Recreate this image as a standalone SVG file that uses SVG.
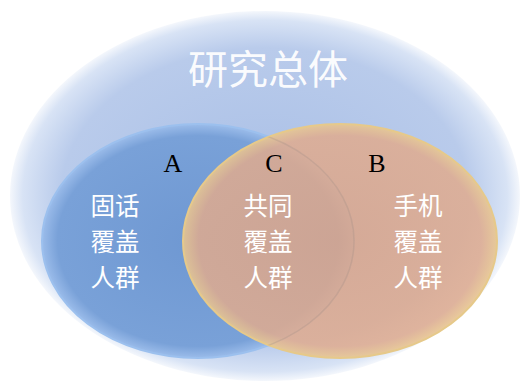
<svg xmlns="http://www.w3.org/2000/svg" width="527" height="382" viewBox="0 0 527 382">
<style>
.zh{font-family:"Noto Sans CJK SC","Noto Sans",sans-serif;fill:#ffffff;text-anchor:middle;font-size:24.5px}
.lt{font-family:"Liberation Serif",serif;fill:#000000;text-anchor:middle;font-size:26px}
</style>
<defs>
<radialGradient id="gOuter" cx="0.5" cy="0.5" r="0.5">
<stop offset="0" stop-color="#a9bfe6"/>
<stop offset="0.8" stop-color="#b9cbeb"/>
<stop offset="0.95" stop-color="#d8e3f5"/>
<stop offset="1" stop-color="#f4f7fc"/>
</radialGradient>
<radialGradient id="gBlue" cx="0.5" cy="0.5" r="0.5">
<stop offset="0" stop-color="#6f98d2"/>
<stop offset="0.9" stop-color="#79a1d8"/>
<stop offset="1" stop-color="#9bbcea"/>
</radialGradient>
<radialGradient id="gOrange" cx="0.5" cy="0.5" r="0.5">
<stop offset="0" stop-color="#dba589" stop-opacity="0.85"/>
<stop offset="0.9" stop-color="#e0ab8e" stop-opacity="0.85"/>
<stop offset="1" stop-color="#e8c690" stop-opacity="0.9"/>
</radialGradient>
<clipPath id="clipB">
<ellipse cx="340" cy="241" rx="157" ry="117"/>
</clipPath>
</defs>
<rect width="527" height="382" fill="#ffffff"/>
<g id="outer">
<ellipse cx="265" cy="196" rx="255" ry="185" fill="url(#gOuter)"/>
<text class="zh" x="268" y="84" font-size="40" style="font-size:40px" fill-opacity="0.95">研究总体</text>
</g>
<g id="setA">
<ellipse cx="198" cy="241" rx="156" ry="117" fill="url(#gBlue)" stroke="#9cc0ee" stroke-width="2"/>
</g>
<g id="setB">
<ellipse cx="340" cy="241" rx="157" ry="117" fill="url(#gOrange)" stroke="#e6c98a" stroke-width="2"/>
</g>
<g id="overlapEdge" clip-path="url(#clipB)">
<ellipse cx="198" cy="241" rx="156" ry="117" fill="none" stroke="#a58f85" stroke-opacity="0.3" stroke-width="1.5"/>
</g>
<g id="labelA">
<text class="lt" x="173" y="172">A</text>
<text class="zh" x="115" y="215">固话</text>
<text class="zh" x="115" y="251">覆盖</text>
<text class="zh" x="115" y="287">人群</text>
</g>
<g id="labelC">
<text class="lt" x="274" y="172">C</text>
<text class="zh" x="268" y="215">共同</text>
<text class="zh" x="268" y="251">覆盖</text>
<text class="zh" x="268" y="287">人群</text>
</g>
<g id="labelB">
<text class="lt" x="377" y="172">B</text>
<text class="zh" x="418" y="215">手机</text>
<text class="zh" x="418" y="251">覆盖</text>
<text class="zh" x="418" y="287">人群</text>
</g>
<g id="connectors"></g>
</svg>
